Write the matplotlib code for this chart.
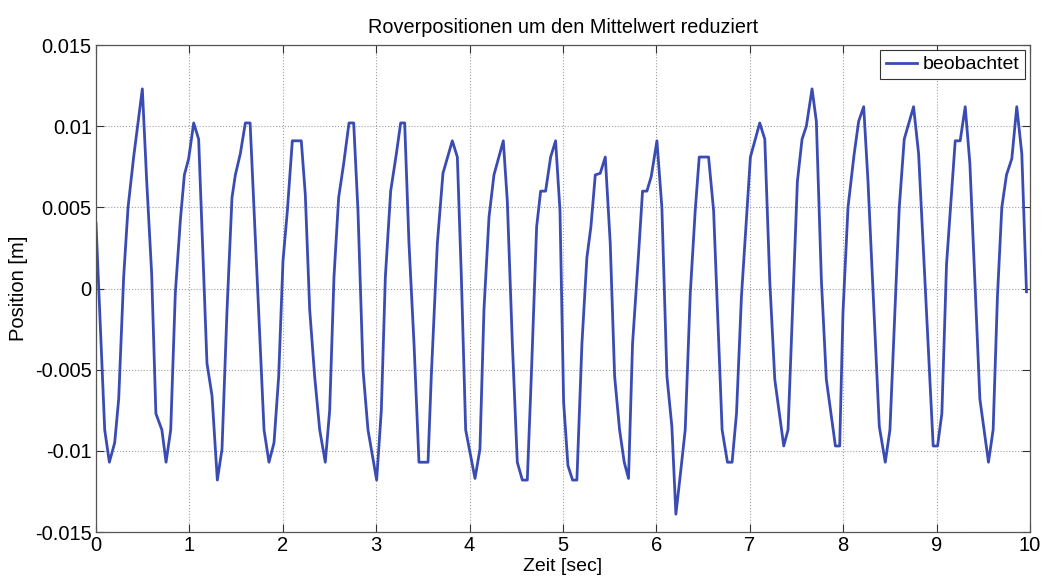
import matplotlib
matplotlib.use("Agg")
import matplotlib.pyplot as plt
import numpy as np

# Rover position relative to its mean (polyline vertices)
time_s = [
    0.000, 0.093, 0.143, 0.200, 0.243, 0.296, 0.343, 0.403, 0.496, 0.542,
    0.596, 0.641, 0.705, 0.750, 0.800, 0.849, 0.903, 0.946, 0.992, 1.046,
    1.099, 1.188, 1.242, 1.299, 1.349, 1.403, 1.456, 1.492, 1.545, 1.599,
    1.650, 1.770, 1.799, 1.852, 1.906, 1.956, 2.002, 2.049, 2.102, 2.198,
    2.241, 2.288, 2.341, 2.395, 2.455, 2.502, 2.548, 2.598, 2.652, 2.709,
    2.759, 2.805, 2.859, 2.912, 3.005, 3.055, 3.098, 3.155, 3.216, 3.262,
    3.305, 3.351, 3.405, 3.458, 3.555, 3.590, 3.655, 3.715, 3.815, 3.869,
    3.912, 3.958, 4.058, 4.111, 4.154, 4.208, 4.261, 4.361, 4.404, 4.458,
    4.511, 4.565, 4.618, 4.661, 4.718, 4.761, 4.814, 4.868, 4.921, 4.968,
    5.007, 5.053, 5.103, 5.149, 5.203, 5.256, 5.299, 5.346, 5.399, 5.453,
    5.506, 5.553, 5.606, 5.656, 5.702, 5.745, 5.809, 5.852, 5.899, 5.945,
    6.006, 6.059, 6.113, 6.166, 6.209, 6.256, 6.309, 6.363, 6.416, 6.459,
    6.559, 6.613, 6.704, 6.761, 6.811, 6.858, 6.911, 7.007, 7.107, 7.161,
    7.214, 7.268, 7.364, 7.410, 7.464, 7.510, 7.560, 7.606, 7.667, 7.713,
    7.767, 7.820, 7.917, 7.963, 7.998, 8.052, 8.116, 8.166, 8.220, 8.266,
    8.387, 8.451, 8.501, 8.601, 8.654, 8.754, 8.808, 8.964, 9.011, 9.057,
    9.107, 9.200, 9.253, 9.307, 9.357, 9.464, 9.556, 9.606, 9.652, 9.699,
    9.749, 9.806, 9.859, 9.913, 9.963,
]
position_m = [
    0.0040, -0.0087, -0.0107, -0.0095, -0.0068, 0.0007, 0.0050, 0.0081, 0.0123, 0.0067,
    0.0009, -0.0077, -0.0087, -0.0107, -0.0087, -0.0003, 0.0042, 0.0070, 0.0080, 0.0102,
    0.0092, -0.0046, -0.0066, -0.0118, -0.0099, -0.0013, 0.0056, 0.0070, 0.0083, 0.0102,
    0.0102, -0.0050, -0.0087, -0.0107, -0.0095, -0.0054, 0.0017, 0.0048, 0.0091, 0.0091,
    0.0058, -0.0013, -0.0054, -0.0087, -0.0107, -0.0075, 0.0007, 0.0056, 0.0077, 0.0102,
    0.0102, 0.0048, -0.0050, -0.0087, -0.0118, -0.0075, 0.0007, 0.0060, 0.0083, 0.0102,
    0.0102, 0.0028, -0.0034, -0.0107, -0.0107, -0.0054, 0.0028, 0.0071, 0.0091, 0.0081,
    0.0007, -0.0087, -0.0117, -0.0099, -0.0013, 0.0044, 0.0070, 0.0091, 0.0054, -0.0034,
    -0.0107, -0.0118, -0.0118, -0.0054, 0.0038, 0.0060, 0.0060, 0.0081, 0.0091, 0.0048,
    -0.0070, -0.0109, -0.0118, -0.0118, -0.0034, 0.0019, 0.0038, 0.0070, 0.0071, 0.0081,
    0.0028, -0.0054, -0.0087, -0.0107, -0.0117, -0.0034, 0.0021, 0.0060, 0.0060, 0.0069,
    0.0091, 0.0050, -0.0054, -0.0085, -0.0139, -0.0115, -0.0087, -0.0003, 0.0048, 0.0081,
    0.0081, 0.0048, -0.0087, -0.0107, -0.0107, -0.0077, -0.0005, 0.0081, 0.0102, 0.0092,
    0.0005, -0.0056, -0.0097, -0.0087, -0.0005, 0.0066, 0.0092, 0.0100, 0.0123, 0.0103,
    0.0005, -0.0056, -0.0097, -0.0097, -0.0015, 0.0050, 0.0082, 0.0103, 0.0112, 0.0066,
    -0.0085, -0.0107, -0.0087, 0.0050, 0.0092, 0.0112, 0.0083, -0.0097, -0.0097, -0.0077,
    0.0015, 0.0091, 0.0091, 0.0112, 0.0077, -0.0068, -0.0107, -0.0087, -0.0005, 0.0050,
    0.0070, 0.0080, 0.0112, 0.0083, -0.0002,
]

x_ticks = [0, 1, 2, 3, 4, 5, 6, 7, 8, 9, 10]
y_ticks = [-0.015, -0.01, -0.005, 0, 0.005, 0.01, 0.015]
y_tick_labels = ["-0.015", "-0.01", "-0.005", "0", "0.005", "0.01", "0.015"]

FONT = ["Liberation Sans", "DejaVu Sans"]
plt.rcParams["font.family"] = FONT

fig = plt.figure(figsize=(10.47, 5.81), dpi=100)
ax = fig.add_axes([0.0917, 0.0843, 0.892, 0.8382])

ax.plot(time_s, position_m, color="#3a4cb4", lw=2.0, label="beobachtet")

ax.set_xlim(0, 10)
ax.set_ylim(-0.015, 0.015)
ax.set_xticks(x_ticks)
ax.set_xticklabels([str(v) for v in x_ticks])
ax.set_yticks(y_ticks)
ax.set_yticklabels(y_tick_labels)

ax.grid(True, linestyle=":", color="#a0a0a0", linewidth=0.8)
ax.tick_params(direction="in", length=6, width=0.8, top=True, right=True,
               labelsize=14.5, pad=3, colors="#333333", labelcolor="black")
for sp in ax.spines.values():
    sp.set_color("#555555")
    sp.set_linewidth(0.9)

ax.set_title("Roverpositionen um den Mittelwert reduziert", fontsize=14.3, pad=9)
ax.set_xlabel("Zeit [sec]", fontsize=14, labelpad=2)
ax.set_ylabel("Position [m]", fontsize=14.5, labelpad=5)

leg = ax.legend(loc="upper right", fontsize=14, frameon=True, fancybox=False,
                framealpha=1, edgecolor="#333333", borderpad=0.3,
                handlelength=1.6, handletextpad=0.3, borderaxespad=0.25)
leg.get_frame().set_linewidth(0.8)

fig.savefig("out.png", dpi=100)
